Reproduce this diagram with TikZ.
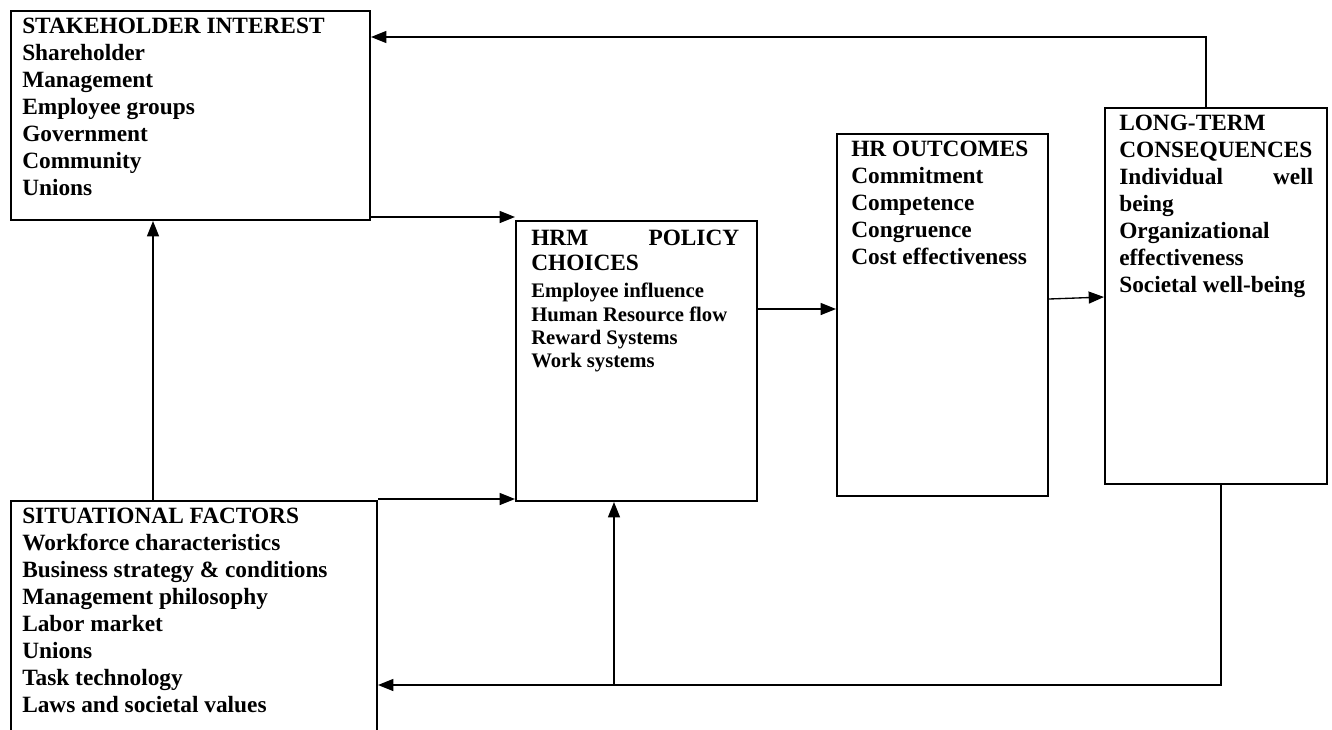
\documentclass[tikz,border=0pt]{standalone}
\usepackage{fontspec}
\setmainfont{Liberation Serif}
\usetikzlibrary{arrows.meta,fit}
\begin{document}
\begin{tikzpicture}[x=0.75pt,y=-0.75pt,
  box/.style={draw, line width=1.5pt, inner sep=0pt},
  txt/.style={anchor=north west, inner sep=0pt, align=left, font=\bfseries\fontsize{17.5}{20.25}\selectfont},
  ttl/.style={anchor=north west, inner sep=0pt, align=left, font=\bfseries\fontsize{17.5}{18.75}\selectfont},
  small/.style={anchor=north west, inner sep=0pt, align=left, font=\bfseries\fontsize{15.5}{17.5}\selectfont},
  conn/.style={line width=1pt},
  arr/.style={conn, -{Triangle[length=11.5pt,width=9pt]}}]
\path[use as bounding box, clip] (0,0) rectangle (1332,729);

% boxes
\node[box, fit={(11,11)(370,220)}] (SH) {};
\node[box, fit={(516,221)(757,501)}] (HRM) {};
\node[box, fit={(837,134)(1048,496)}] (HRO) {};
\node[box, fit={(1105,108)(1327,484)}] (LT) {};
\node[box, fit={(11,501)(377,760)}] (SF) {};

% texts
\node[txt] (SHt) at (22,17.5) {STAKEHOLDER INTEREST\\Shareholder\\Management\\Employee groups\\Government\\Community\\Unions};
\node[ttl] (HRMt) at (531,229.6) {\hbox to 156pt{HRM\hfill POLICY}\\CHOICES};
\node[small] (HRMi) at (531,283) {Employee influence\\Human Resource flow\\Reward Systems\\Work systems};
\node[txt] (HROt) at (851,140.6) {HR OUTCOMES\\Commitment\\Competence\\Congruence\\Cost effectiveness};
\node[txt] (LTt) at (1119,115) {LONG-TERM\\CONSEQUENCES\\\hbox to 145.5pt{Individual\hfill well}\\being\\Organizational\\effectiveness\\Societal well-being};
\node[txt] (SFt) at (22,507.6) {SITUATIONAL FACTORS\\Workforce characteristics\\Business strategy \& conditions\\Management philosophy\\Labor market\\Unions\\Task technology\\Laws and societal values};

% connectors
\coordinate (a1) at (1206,37);
\draw[arr] (a1 |- LT.north) -- (a1) -- (a1 -| SH.east);
\coordinate (a2) at (0,217);
\draw[arr] (a2 -| SH.east) -- (a2 -| HRM.west);
\coordinate (a3) at (0,309);
\draw[arr] (a3 -| HRM.east) -- (a3 -| HRO.west);
\coordinate (a4) at (0,299);
\coordinate (a5) at (0,297);
\draw[arr] (a4 -| HRO.east) -- (a5 -| LT.west);
\coordinate (a6) at (153,0);
\draw[arr] (a6 |- SF.north) -- (a6 |- SH.south);
\coordinate (a7) at (0,499);
\draw[arr] (a7 -| SF.east) -- (a7 -| HRM.west);
\coordinate (a8) at (1221,685);
\draw[arr] (a8 |- LT.south) -- (a8) -- (a8 -| SF.east);
\coordinate (a9) at (614,685);
\draw[arr] (a9) -- (a9 |- HRM.south);
\end{tikzpicture}
\end{document}
